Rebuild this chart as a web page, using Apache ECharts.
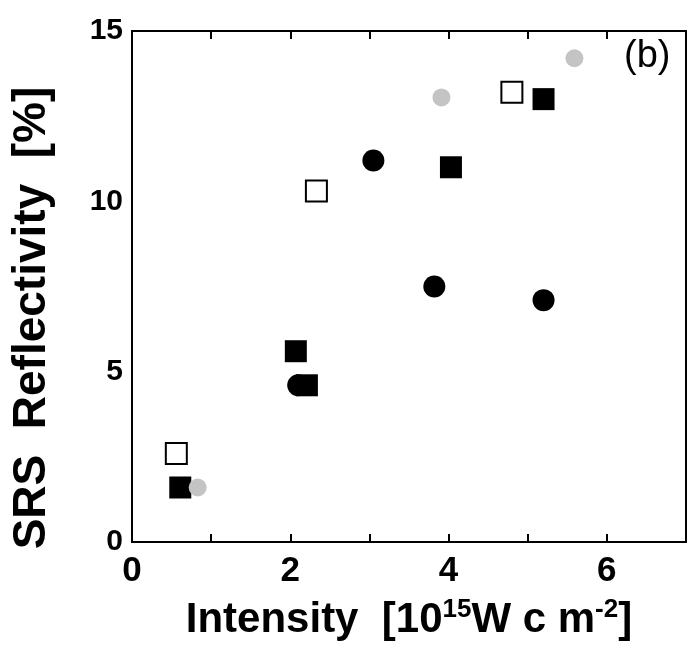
<!DOCTYPE html>
<html>
<head>
<meta charset="utf-8">
<script src="https://cdn.jsdelivr.net/npm/echarts@6/dist/echarts.min.js"></script>
<style>
html,body{margin:0;padding:0;background:#fff;}
#c{width:689px;height:654px;}
</style>
</head>
<body>
<div id="c"></div>
<script>
// Data (intensity [1e15 W/cm2], SRS reflectivity [%])
const openSquares   = [[0.56, 2.6], [2.33, 10.3], [4.80, 13.2]];
const filledSquares = [[0.61, 1.6], [2.07, 5.6], [2.21, 4.6], [4.03, 11.0], [5.20, 13.0]];
const filledCircles = [[2.10, 4.6], [3.05, 11.2], [3.82, 7.5], [5.20, 7.1]];
const grayCircles   = [[0.83, 1.6], [3.91, 13.05], [5.59, 14.2]];
const xTicks = [0, 2, 4, 6];
const yTicks = [0, 5, 10, 15];
const xTitle = '{a|Intensity  [10}{s|15}{a|W c m}{s|-2}{a|]}';
const yTitle = 'SRS  Reflectivity  [%]';

const FONT = 'Liberation Sans, Arial, Helvetica, sans-serif';
const chart = echarts.init(document.getElementById('c'), null, {renderer: 'canvas'});

chart.setOption({
  backgroundColor: '#fff',
  animation: false,
  grid: {left: 132, right: 3, top: 31, bottom: 112, show: true, borderColor: '#000', borderWidth: 2, backgroundColor: 'transparent'},
  xAxis: [{
    type: 'value', min: 0, max: 7, interval: 1, position: 'bottom',
    axisLine: {show: true, lineStyle: {color: '#000', width: 2}},
    axisTick: {show: true, inside: true, length: 8, lineStyle: {color: '#000', width: 2}},
    splitLine: {show: false},
    axisLabel: {
      margin: 12, color: '#000', fontSize: 35, fontWeight: 'bold', fontFamily: FONT,
      formatter: v => xTicks.indexOf(v) >= 0 ? String(v) : ''
    }
  }, {
    type: 'value', min: 0, max: 7, interval: 1, position: 'top',
    axisLine: {show: true, lineStyle: {color: '#000', width: 2}},
    axisTick: {show: true, inside: true, length: 8, lineStyle: {color: '#000', width: 2}},
    axisLabel: {show: false}, splitLine: {show: false}
  }],
  yAxis: {
    type: 'value', min: 0, max: 15, interval: 5,
    axisLine: {show: true, lineStyle: {color: '#000', width: 2}},
    axisTick: {show: false},
    splitLine: {show: false},
    axisLabel: {
      margin: 9, color: '#000', fontSize: 30, fontWeight: 'bold', fontFamily: FONT,
      padding: [0, 0, 10, 0],
      formatter: v => yTicks.indexOf(v) >= 0 ? String(v) : ''
    }
  },
  graphic: [{
    type: 'text', x: 409, y: 620,
    style: {
      text: xTitle, align: 'center', verticalAlign: 'middle',
      rich: {
        a: {fontSize: 42, fontWeight: 'bold', fontFamily: FONT, fill: '#000'},
        s: {fontSize: 26, fontWeight: 'bold', fontFamily: FONT, fill: '#000', verticalAlign: 'top', padding: [0, 0, 20, 0]}
      }
    }
  }, {
    type: 'text', x: 32, y: 318, rotation: Math.PI / 2,
    style: {text: yTitle, fontSize: 46, fontWeight: 'bold', fontFamily: FONT, fill: '#000', align: 'center', verticalAlign: 'middle'}
  }, {
    type: 'text', left: 624, top: 38,
    style: {text: '(b)', fontSize: 38, fontFamily: FONT, fill: '#000'}
  }],
  series: [
    {type: 'scatter', name: 'open squares', data: openSquares, symbol: 'rect', symbolSize: 21,
     itemStyle: {color: '#fff', borderColor: '#000', borderWidth: 2, opacity: 1}},
    {type: 'scatter', name: 'filled circles', data: filledCircles, symbol: 'circle', symbolSize: 22,
     itemStyle: {color: '#000', opacity: 1}},
    {type: 'scatter', name: 'filled squares', data: filledSquares, symbol: 'rect', symbolSize: 22,
     itemStyle: {color: '#000', opacity: 1}},
    {type: 'scatter', name: 'gray circles', data: grayCircles, symbol: 'circle', symbolSize: 18,
     itemStyle: {color: '#c4c4c4', opacity: 1}}
  ]
});
</script>
</body>
</html>
